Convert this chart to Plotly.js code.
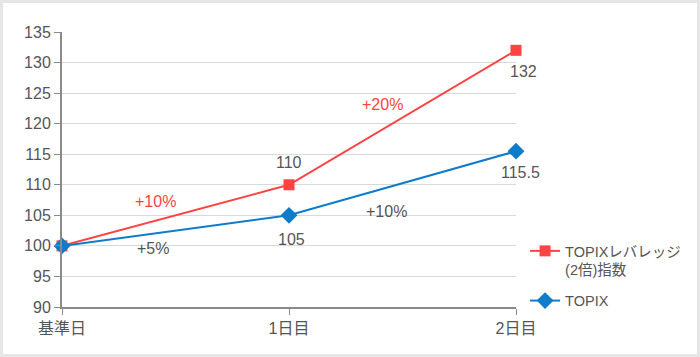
<!DOCTYPE html>
<html><head><meta charset="utf-8">
<script src="https://cdn.plot.ly/plotly-3.0.1.min.js"></script>
<style>
html,body{margin:0;padding:0;background:#fff;}
#wrap{position:relative;width:700px;height:357px;}
#chart{width:700px;height:357px;}
#frame{position:absolute;left:0;top:0;width:700px;height:357px;box-sizing:border-box;border:3px solid #e6e6e6;pointer-events:none;}
</style></head>
<body>
<div id="wrap"><div id="chart"></div><div id="frame"></div></div>
<script>
const categories = ["基準日", "1日目", "2日目"];
const leveragedName = "TOPIXレバレッジ<br>(2倍)指数";
const leveragedValues = [100, 110, 132];
const topixName = "TOPIX";
const topixValues = [100, 105, 115.5];
const yTicks = [90, 95, 100, 105, 110, 115, 120, 125, 130, 135];
// change labels between days: [x position (category index), y value, text, series]
const changeLabels = [
  {x: 0.41, y: 107.3, text: "+10%", series: "lev"},
  {x: 0.40, y: 99.5, text: "+5%", series: "topix"},
  {x: 1.41, y: 123.1, text: "+20%", series: "lev"},
  {x: 1.43, y: 105.7, text: "+10%", series: "topix"}
];

const RED = "#ff4343";
const BLUE = "#0f7cc9";
const TXT = "#555555";
const FONT = "Liberation Sans, Arial, Noto Sans CJK JP, sans-serif";

const xIdx = categories.map((c, i) => i);

const traces = [
  {x: xIdx, y: leveragedValues, name: leveragedName, type: "scatter", mode: "lines+markers",
   cliponaxis: false, legendgroup: "lev",
   line: {color: RED, width: 2}, marker: {symbol: "square", size: 11, color: RED}},
  {x: xIdx, y: topixValues, name: topixName, type: "scatter", mode: "lines+markers",
   cliponaxis: false, legendgroup: "topix",
   line: {color: BLUE, width: 2}, marker: {symbol: "diamond", size: 13, color: BLUE}}
];

const annotations = [];
const levPos = [null, {ys: 22, xs: 0}, {ys: -21, xs: 7}];
const topPos = [null, {ys: -24, xs: 2}, {ys: -21, xs: 4}];
leveragedValues.forEach((v, i) => {
  if (!levPos[i]) return;
  annotations.push({x: xIdx[i], y: v, text: String(v), showarrow: false,
    yshift: levPos[i].ys, xshift: levPos[i].xs, font: {size: 16, color: TXT, family: FONT}});
});
topixValues.forEach((v, i) => {
  if (!topPos[i]) return;
  annotations.push({x: xIdx[i], y: v, text: String(v), showarrow: false,
    yshift: topPos[i].ys, xshift: topPos[i].xs, font: {size: 16, color: TXT, family: FONT}});
});
changeLabels.forEach(c => {
  annotations.push({x: c.x, y: c.y, text: c.text, showarrow: false,
    font: {size: 16, color: c.series === "lev" ? RED : TXT, family: FONT}});
});

const layout = {
  width: 700, height: 357,
  margin: {l: 62, r: 184, t: 32, b: 50, pad: 0},
  paper_bgcolor: "#ffffff", plot_bgcolor: "#ffffff",
  font: {family: FONT, size: 16, color: TXT},
  showlegend: true,
  legend: {x: 1.02, y: 0.262, xanchor: "left", yanchor: "top", valign: "top",
    font: {size: 14.5, color: TXT, family: FONT}, tracegroupgap: 9, itemwidth: 30,
    bgcolor: "rgba(0,0,0,0)"},
  xaxis: {
    range: [0, 2], tickvals: xIdx, ticktext: categories,
    showgrid: false, zeroline: false, automargin: false,
    showline: true, linecolor: "#8a8a8a", linewidth: 2,
    ticks: "outside", ticklen: 6, tickcolor: "#8a8a8a", tickwidth: 1,
    tickfont: {size: 16, color: TXT, family: FONT}, fixedrange: true
  },
  yaxis: {
    range: [90, 135], tickvals: yTicks, ticktext: yTicks.map(String),
    showgrid: true, gridcolor: "#d9d9d9", gridwidth: 1, zeroline: false, automargin: false,
    showline: true, linecolor: "#8a8a8a", linewidth: 2,
    ticks: "outside", ticklen: 6, tickcolor: "#8a8a8a", tickwidth: 1,
    tickfont: {size: 16, color: TXT, family: FONT}, fixedrange: true
  },
  annotations: annotations
};

Plotly.newPlot("chart", traces, layout, {displayModeBar: false, staticPlot: true});
</script>
</body></html>
